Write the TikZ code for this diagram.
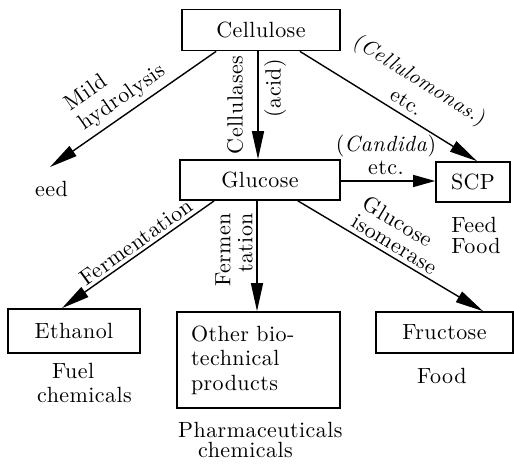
\documentclass[tikz,border=0pt]{standalone}
\usepackage{fontspec}
\setmainfont{lmroman10-regular.otf}[ItalicFont=lmroman10-italic.otf, LetterSpace=2]
\usetikzlibrary{arrows.meta,calc}
\tikzset{
  box/.style={draw, line width=1.7pt, inner sep=0pt, align=center},
  lbl/.style={inner sep=0pt, align=center},
  arr/.style={line width=1.4pt, -{Triangle[length=28pt,width=12pt]}},
  every node/.append style={font=\fontsize{22}{24}\selectfont},
}
\begin{document}
\begin{tikzpicture}[x=1pt,y=-1pt]
\useasboundingbox (0,0) rectangle (514,465);
% boxes
\node[box, minimum width=158pt, minimum height=41pt] (cel) at (261,30) {Cellulose};
\node[box, minimum width=160pt, minimum height=40pt] (glu) at (260,180) {Glucose};
\node[box, minimum width=74pt, minimum height=40pt] (scp) at (473,182) {SCP};
\node[box, minimum width=132pt, minimum height=44pt] (eth) at (74,331) {Ethanol};
\node[box, inner xsep=14pt, text width=135pt, minimum height=96pt, align=left] (oth) at (258.5,360) {Other bio-\\[0.5pt]technical\\[0.5pt]products};
\node[box, minimum width=137pt, minimum height=41pt] (fru) at (444.5,332.5) {Fructose};
% free end
\coordinate (mhend) at (50,167);
% connectors
\draw[arr] ($(cel.south west)+(35,0)$) -- (mhend);
\draw[arr] ($(cel.south)+(-3,0)$) -- ($(glu.north)+(-2,0)$);
\draw[arr] ($(cel.south east)+(-41,0)$) -- ($(scp.north)+(4,0)$);
\draw[arr, -{Triangle[length=22pt,width=12pt]}] ($(glu.east)+(0,1)$) -- ($(scp.west)+(0,-1)$);
\draw[arr] ($(glu.south west)+(35,0)$) -- ($(eth.north)+(-12,0)$);
\draw[arr] ($(glu.south)+(-3,0)$) -- ($(oth.north)+(-1.5,0)$);
\draw[arr] ($(glu.south east)+(-43,0)$) -- ($(fru.north)+(38.5,0)$);
% labels
\node[lbl, rotate=34.6, align=left] (mild) at (116,88) {Mild\\hydrolysis};
\node[lbl, anchor=base west] (eed) at (35,197) {eed};
\node[lbl, rotate=90] (cellulases) at (235,105) {Cellulases};
\node[lbl, rotate=90] (acid) at (275,88) {(acid)};
\node[lbl, rotate=-32, font=\fontsize{21}{26}\selectfont] (cmon) at (414,90) {(\textit{Cellulomonas.})\\etc.};
\node[lbl, font=\fontsize{22}{23}\selectfont] (cand) at (386,155) {(\textit{Candida})\\etc.};
\node[lbl, align=left, font=\fontsize{22}{21}\selectfont] (scpuse) at (476,235) {Feed\\Food};
\node[lbl, rotate=35.7] (ferm) at (136,242) {Fermentation};
\node[lbl, rotate=90, align=right, font=\fontsize{22}{22}\selectfont] (ferm2) at (234,250) {Fermen\\tation};
\node[lbl, rotate=-31, align=left, font=\fontsize{22}{21}\selectfont] (gi) at (400,235) {Glucose\\isomerase};
\node[lbl, anchor=base west] (fuel) at (52,378) {Fuel};
\node[lbl, anchor=base west] (chem1) at (37,402) {chemicals};
\node[lbl, anchor=base west] (food) at (417,383) {Food};
\node[lbl, anchor=base west] (pharm) at (178,437) {Pharmaceuticals};
\node[lbl, anchor=base west] (chem2) at (198,457) {chemicals};
\end{tikzpicture}
\end{document}
